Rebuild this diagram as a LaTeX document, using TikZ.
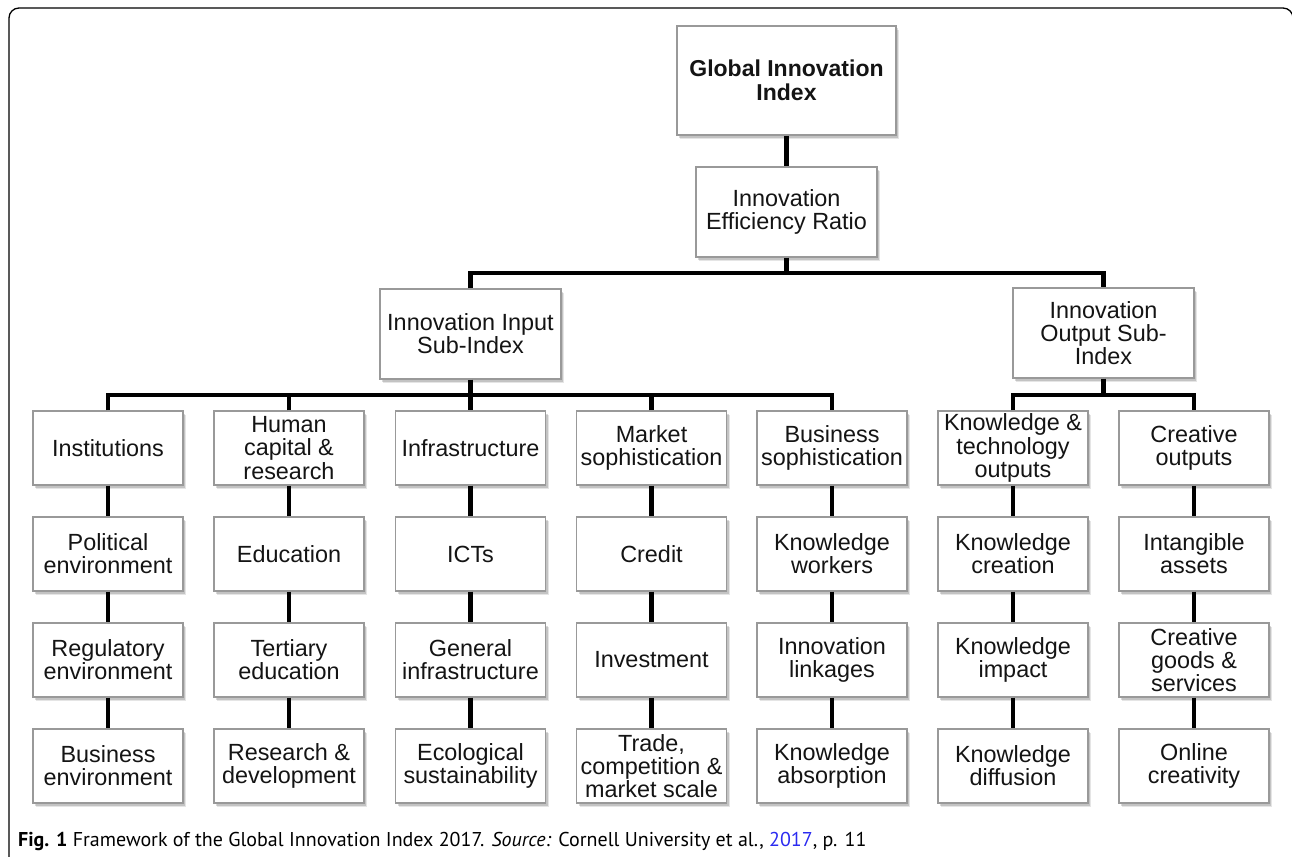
\documentclass[tikz,border=0pt]{standalone}
\usepackage{fontspec}
\usetikzlibrary{shadows}
\newfontfamily\boxfont{Liberation Sans}
\newfontfamily\capfont{PT Sans}
\definecolor{boxline}{HTML}{999999}
\definecolor{boxtext}{HTML}{141414}
\definecolor{linkblue}{HTML}{2B2BF0}
\tikzset{
  box/.style={draw=boxline, line width=1.2pt, fill=white, text=boxtext,
    minimum width=150pt, minimum height=74pt, inner sep=0pt, align=center,
    font=\boxfont\fontsize{23.4}{23.2}\selectfont,
    general shadow={fill=black, opacity=0.10, shadow xshift=3pt, shadow yshift=-4pt},
    general shadow={fill=black, opacity=0.15, shadow xshift=2pt, shadow yshift=-2.5pt}},
  widebox/.style={box, minimum width=181pt, minimum height=90pt},
  conn/.style={line width=4.6pt, black},
  frameline/.style={line width=1.3pt, black, rounded corners=10pt}
}
\begin{document}
\begin{tikzpicture}[x=1pt,y=-1pt]
\useasboundingbox (0,0) rectangle (1292,856);
% outer frame
\begin{scope}
\clip (0,0) rectangle (1292,856);
\draw[frameline] (9,870) -- (9,8) -- (1293,8) -- (1293,40);
\end{scope}
% top levels
\node[box, minimum width=219pt, minimum height=109pt, font=\boxfont\bfseries\fontsize{23}{24.5}\selectfont] (gii) at (786.5,80.5) {Global Innovation\\Index};
\node[widebox] (ier) at (786.5,212) {Innovation\\Efficiency Ratio};
\node[widebox] (inp) at (470.5,334) {Innovation Input\\Sub-Index};
\node[widebox] (outp) at (1103.5,333) {Innovation\\Output Sub-\\Index};
% column 1
\node[box] (a1) at (108,448) {Institutions};
\node[box] (a2) at (108,554) {Political\\environment};
\node[box] (a3) at (108,660) {Regulatory\\environment};
\node[box] (a4) at (108,766) {Business\\environment};
% column 2
\node[box] (b1) at (289,448) {Human\\capital \&\\research};
\node[box] (b2) at (289,554) {Education};
\node[box] (b3) at (289,660) {Tertiary\\education};
\node[box] (b4) at (289,766) {Research \&\\development};
% column 3
\node[box] (c1) at (470.5,448) {Infrastructure};
\node[box] (c2) at (470.5,554) {ICTs};
\node[box] (c3) at (470.5,660) {General\\infrastructure};
\node[box] (c4) at (470.5,766) {Ecological\\sustainability};
% column 4
\node[box] (d1) at (651.5,448) {Market\\sophistication};
\node[box] (d2) at (651.5,554) {Credit};
\node[box] (d3) at (651.5,660) {Investment};
\node[box] (d4) at (651.5,766) {Trade,\\competition \&\\market scale};
% column 5
\node[box] (e1) at (832,448) {Business\\sophistication};
\node[box] (e2) at (832,554) {Knowledge\\workers};
\node[box] (e3) at (832,660) {Innovation\\linkages};
\node[box] (e4) at (832,766) {Knowledge\\absorption};
% column 6
\node[box] (f1) at (1013,448) {Knowledge \&\\technology\\outputs};
\node[box] (f2) at (1013,554) {Knowledge\\creation};
\node[box] (f3) at (1013,660) {Knowledge\\impact};
\node[box] (f4) at (1013,766) {Knowledge\\diffusion};
% column 7
\node[box] (g1) at (1194,448) {Creative\\outputs};
\node[box] (g2) at (1194,554) {Intangible\\assets};
\node[box] (g3) at (1194,660) {Creative\\goods \&\\services};
\node[box] (g4) at (1194,766) {Online\\creativity};
% bar coordinates
\coordinate (bar1) at (786.5,273);
\coordinate (bar2) at (470.5,395);
\coordinate (bar3) at (1103.5,395);
% connectors
\draw[conn] (gii.south) -- (ier.north);
\draw[conn] (ier.south) -- (bar1);
\draw[conn] (inp.north) |- (bar1) -| (outp.north);
\draw[conn] (inp.south) -- (c1.north);
\draw[conn] (a1.north) |- (bar2) -| (e1.north);
\draw[conn] (b1.north) -- (b1.north |- bar2);
\draw[conn] (d1.north) -- (d1.north |- bar2);
\draw[conn] (outp.south) -- (bar3);
\draw[conn] (f1.north) |- (bar3) -| (g1.north);
\foreach \col in {a,b,c,d,e,f,g}{
  \draw[conn] (\col1.south) -- (\col2.north);
  \draw[conn] (\col2.south) -- (\col3.north);
  \draw[conn] (\col3.south) -- (\col4.north);
}
% caption
\node[anchor=base west, inner sep=0pt, font=\capfont\fontsize{20}{22}\selectfont] (cap) at (18,846)
  {\textbf{Fig. 1} Framework of the Global Innovation Index 2017. \textit{Source:} Cornell University et al., \textcolor{linkblue}{2017}, p. 11};
\end{tikzpicture}
\end{document}
